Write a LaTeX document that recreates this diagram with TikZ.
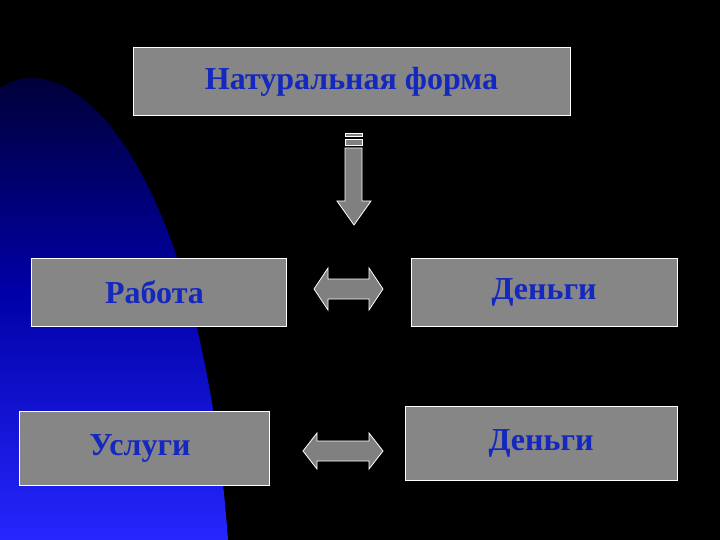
\documentclass[tikz,border=0pt]{standalone}
\usepackage{fontspec}
\setmainfont{Liberation Serif}
\definecolor{txtblue}{RGB}{20,40,190}
\begin{document}
\begin{tikzpicture}[x=1pt,y=-1pt,
  box/.style={draw=white,line width=1pt,fill=gray!95!white,inner sep=0pt,font=\fontsize{32}{36}\selectfont\bfseries,text=txtblue},
  arr/.style={draw=white,line width=0.8pt,fill=gray}]
\fill[black] (0,0) rectangle (720,540);
\useasboundingbox (0,0) rectangle (720,540);
\shade[top color=black!85!blue, bottom color=blue!85!white, middle color=blue!65!black]
  (0,88) .. controls (70,40) and (200,160) .. (228,540) -- (0,540) -- cycle;
\node[box,minimum width=437pt,minimum height=68pt] (nat) at (351.5,82) {\raisebox{-2pt}{Натуральная форма}};
\node[box,minimum width=255pt,minimum height=68pt] (rab) at (158.5,292) {\hspace*{-8pt}Работа};
\node[box,minimum width=266pt,minimum height=68pt] (den1) at (544,292) {\raisebox{-3pt}{Деньги}};
\node[box,minimum width=250pt,minimum height=74pt] (usl) at (144,448) {\hspace*{-8pt}\raisebox{-2pt}{Услуги}};
\node[box,minimum width=272pt,minimum height=74pt] (den2) at (541,443) {\raisebox{2pt}{Деньги}};
% down arrow
\draw[arr] (345,133) rectangle (362,136);
\draw[arr] (345,139) rectangle (362,145);
\draw[arr] (345,148) -- (362,148) -- (362,201) -- (371,201) -- (354,225) -- (337,201) -- (345,201) -- cycle;
% double arrows
\draw[arr] (314,289) -- (328,268) -- (328,279) -- (369,279) -- (369,268) -- (383,289) -- (369,310) -- (369,299) -- (328,299) -- (328,310) -- cycle;
\draw[arr] (303,451) -- (317,433) -- (317,441) -- (369,441) -- (369,433) -- (383,451) -- (369,469) -- (369,461) -- (317,461) -- (317,469) -- cycle;
\end{tikzpicture}
\end{document}
